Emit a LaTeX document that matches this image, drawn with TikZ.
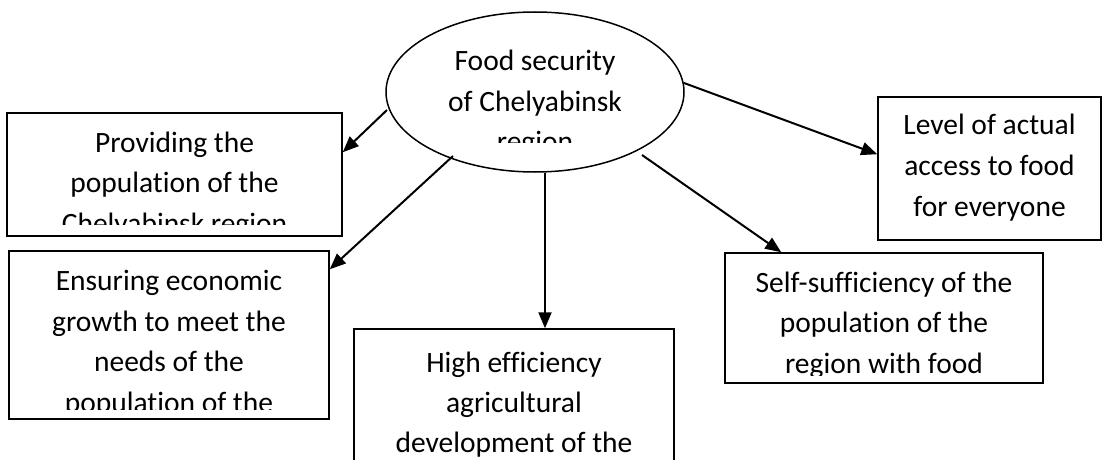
\documentclass[tikz,border=0pt]{standalone}
\usepackage{fontspec}
\setmainfont{Carlito}[Ligatures=NoCommon]
\usetikzlibrary{arrows.meta,calc,shapes.geometric}
\begin{document}
\begin{tikzpicture}[x=1pt,y=-1pt,
  outline/.style={draw=black,line width=1.5pt,inner sep=0pt},
  boxnode/.style={outline,rectangle},
  lbl/.style={anchor=base,inner sep=0pt,font=\fontsize{29.5}{40}\selectfont},
  arr/.style={line width=2pt,-{Triangle[length=16pt,width=13pt]}}]
% page frame
\clip (0,0) rectangle (1104,460);
\fill[white] (0,0) rectangle (1104,460);

% central ellipse and the five boxes
\node[outline,ellipse,minimum width=298pt,minimum height=160pt] (ell) at (535,92) {};
\node[boxnode,minimum width=335pt,minimum height=123pt] (b1) at (174.5,174.5) {};
\node[boxnode,minimum width=320pt,minimum height=168pt] (b2) at (169,335) {};
\node[boxnode,minimum width=320pt,minimum height=171pt] (b3) at (514,414.5) {};
\node[boxnode,minimum width=223pt,minimum height=143pt] (b4) at (989.5,168.5) {};
\node[boxnode,minimum width=318pt,minimum height=130pt] (b5) at (884,318) {};

% texts, cut off where the shapes end
\begin{scope}
  \clip (386,0) rectangle (684,142);
  \foreach \t [count=\i] in {Food security, of Chelyabinsk, region}
    \node[lbl] (ell-t\i) at (535,{71+40*(\i-1)}) {\t};
\end{scope}
\begin{scope}
  \clip (7,113) rectangle (342,224);
  \foreach \t [count=\i] in {Providing the, population of the, Chelyabinsk region}
    \node[lbl] (b1-t\i) at (174.5,{152+40.5*(\i-1)}) {\t};
\end{scope}
\begin{scope}
  \clip (9,251) rectangle (329,409);
  \foreach \t [count=\i] in {Ensuring economic, growth to meet the, needs of the, population of the}
    \node[lbl] (b2-t\i) at (169,{290.5+40.5*(\i-1)}) {\t};
\end{scope}
\begin{scope}
  \clip (354,329) rectangle (674,460);
  \foreach \t [count=\i] in {High efficiency, agricultural, development of the}
    \node[lbl] (b3-t\i) at (514,{372+40*(\i-1)}) {\t};
\end{scope}
\foreach \t [count=\i] in {Level of actual, access to food, for everyone}
  \node[lbl] (b4-t\i) at (989.5,{135+40.5*(\i-1)}) {\t};
\begin{scope}
  \clip (725,253) rectangle (1043,375);
  \foreach \t [count=\i] in {Self-sufficiency of the, population of the, region with food}
    \node[lbl] (b5-t\i) at (884,{292+40.5*(\i-1)}) {\t};
\end{scope}

% connectors
\draw[arr] ($(ell.center)+(-148,18)$) -- ($(b1.north east)+(0,40)$);
\draw[arr] ($(ell.center)+(-82,64)$) -- ($(b2.north east)+(0,19)$);
\draw[arr] ($(ell.south)+(10,0)$) -- ($(b3.north)+(31,0)$);
\draw[arr] ($(ell.center)+(107,63)$) -- ($(b5.north west)+(57,0)$);
\draw[arr] ($(ell.center)+(149,-9)$) -- ($(b4.north west)+(0,58)$);
\end{tikzpicture}
\end{document}
